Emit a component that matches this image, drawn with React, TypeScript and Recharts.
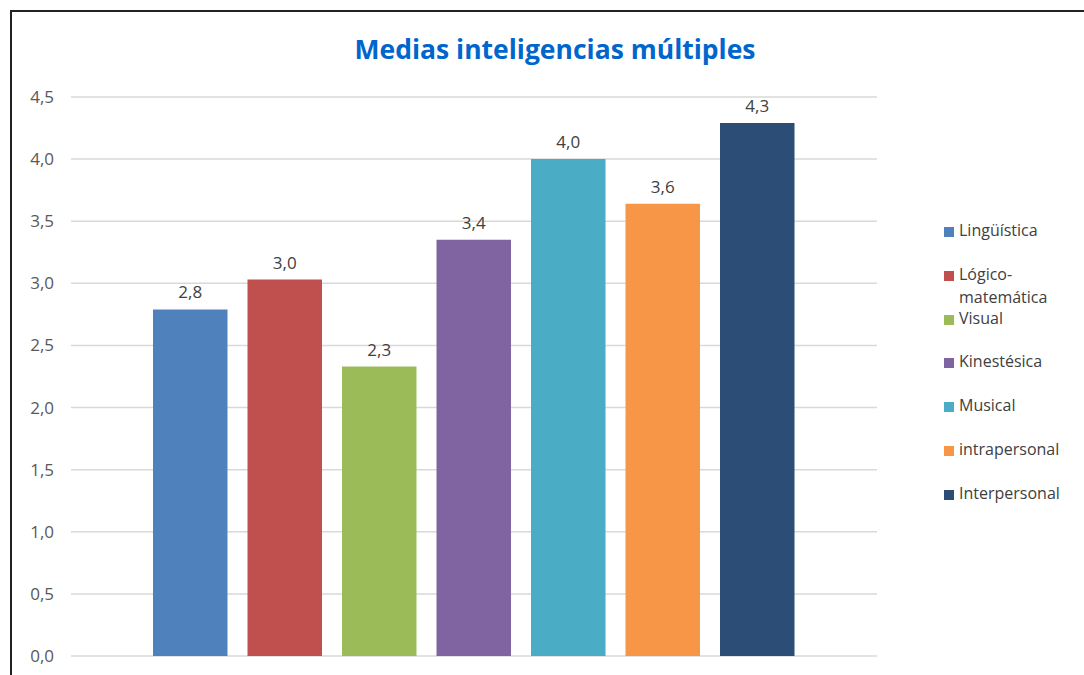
import React from 'react';
import { BarChart, Bar, XAxis, YAxis, CartesianGrid, LabelList } from 'recharts';

const seriesNames = [
  'Lingüística',
  'Lógico-matemática',
  'Visual',
  'Kinestésica',
  'Musical',
  'intrapersonal',
  'Interpersonal',
];
const seriesValues = [2.79, 3.03, 2.33, 3.35, 4.0, 3.64, 4.29];
const seriesColors = ['#4F81BD', '#C0504D', '#9BBB59', '#8064A2', '#4BACC6', '#F79646', '#2C4D75'];
const yTicks = [0, 0.5, 1, 1.5, 2, 2.5, 3, 3.5, 4, 4.5];

const row: Record<string, any> = { name: 'Medias' };
seriesNames.forEach((n, i) => {
  row[`s${i}`] = seriesValues[i];
});
const data = [row];

const font = '"Open Sans", sans-serif';
const fmt = (v: any) => Number(v).toFixed(1).replace('.', ',');

const LegendBox = () => (
  <div
    style={{
      position: 'absolute',
      left: 944,
      top: 220,
      fontFamily: font,
      fontSize: 16,
      color: '#404040',
    }}
  >
    {seriesNames.map((n, i) => (
      <div key={n} style={{ display: 'flex', alignItems: 'flex-start', height: 43.8 }}>
        <span
          style={{
            width: 10,
            height: 10,
            marginTop: 7,
            marginRight: 5,
            background: seriesColors[i],
            flex: 'none',
          }}
        />
        <span style={{ width: 120, lineHeight: '23px', marginTop: -1 }}>
          {n === 'Lógico-matemática' ? (
            <>
              Lógico-
              <br />
              matemática
            </>
          ) : (
            n
          )}
        </span>
      </div>
    ))}
  </div>
);

export default function App() {
  return (
    <div
      style={{
        position: 'fixed',
        left: 0,
        top: 0,
        width: 1084,
        height: 675,
        background: '#fff',
        overflow: 'hidden',
      }}
    >
      <div
        style={{
          position: 'absolute',
          left: 10,
          top: 10,
          width: 1100,
          height: 700,
          borderTop: '2px solid #222',
          borderLeft: '2px solid #222',
        }}
      />
      <div
        style={{
          position: 'absolute',
          left: 0,
          width: 1110,
          top: 31,
          textAlign: 'center',
          fontFamily: font,
          fontWeight: 700,
          fontSize: 26.5,
          color: '#0066CC',
        }}
      >
        Medias inteligencias múltiples
      </div>
      <div style={{ position: 'absolute', left: 0, top: 0 }}>
        <BarChart
          width={1084}
          height={675}
          data={data}
          margin={{ top: 97, right: 207, bottom: 19, left: 0 }}
          barSize={74.5}
          barGap={20}
        >
          <CartesianGrid vertical={false} stroke="#d9d9d9" strokeWidth={1.5} />
          <XAxis dataKey="name" hide />
          <YAxis
            width={71}
            domain={[0, 4.5]}
            ticks={yTicks}
            tickFormatter={fmt}
            axisLine={false}
            tickLine={false}
            tickSize={0}
            tickMargin={17}
            tick={{ fill: '#595959', fontSize: 17, fontFamily: font }}
          />
          {seriesNames.map((n, i) => (
            <Bar key={n} dataKey={`s${i}`} name={n} fill={seriesColors[i]} isAnimationActive={false}>
              <LabelList
                dataKey={`s${i}`}
                position="top"
                offset={11}
                formatter={fmt}
                style={{ fill: '#404040', fontSize: 17, fontFamily: font }}
              />
            </Bar>
          ))}
        </BarChart>
      </div>
      <LegendBox />
    </div>
  );
}
